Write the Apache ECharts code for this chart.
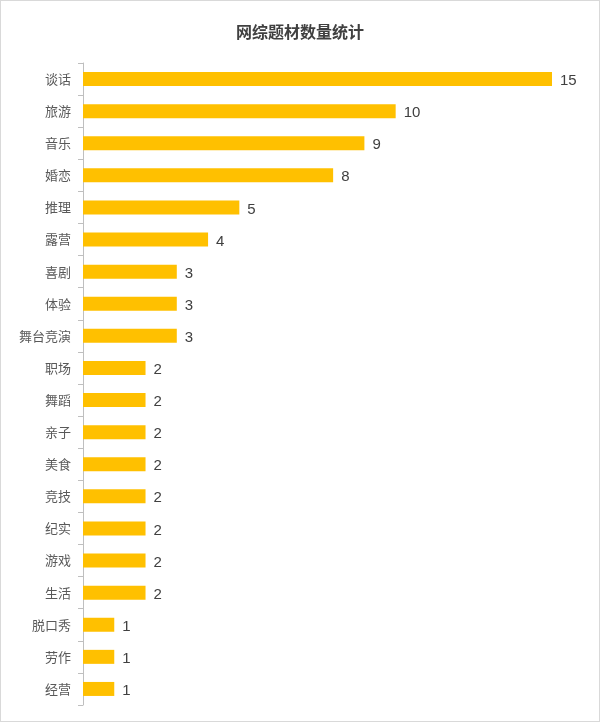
<!DOCTYPE html>
<html><head><meta charset="utf-8">
<script src="https://cdn.jsdelivr.net/npm/echarts@6/dist/echarts.min.js"></script>
<style>html,body{margin:0;padding:0;background:#fff}#c{width:598px;height:720px;border:1px solid #d9d9d9}</style>
</head><body><div id="c"></div>
<script>
const categories = ["谈话","旅游","音乐","婚恋","推理","露营","喜剧","体验","舞台竞演","职场","舞蹈","亲子","美食","竞技","纪实","游戏","生活","脱口秀","劳作","经营"];
const values = [15,10,9,8,5,4,3,3,3,2,2,2,2,2,2,2,2,1,1,1];
const chart = echarts.init(document.getElementById('c'));
chart.setOption({
  animation:false,
  title:{text:"网综题材数量统计",left:"center",top:18,textStyle:{fontSize:16,fontWeight:"bold",color:"#404040",fontFamily:"Noto Sans CJK SC"}},
  grid:{left:82,right:47,top:62,bottom:16},
  xAxis:{type:"value",min:0,max:15,show:false},
  yAxis:{type:"category",data:categories,inverse:true,
    axisLine:{lineStyle:{color:"#bfbfbf"}},
    axisTick:{show:true,lineStyle:{color:"#bfbfbf"}},
    axisLabel:{color:"#595959",fontSize:13,margin:12,fontFamily:"Noto Sans CJK SC"}},
  series:[{type:"bar",data:values,barWidth:14,itemStyle:{color:"#FFC000"},
    label:{show:true,position:"right",distance:8,offset:[0,2],color:"#404040",fontSize:15,fontFamily:"Liberation Sans"}}]
});
</script></body></html>
